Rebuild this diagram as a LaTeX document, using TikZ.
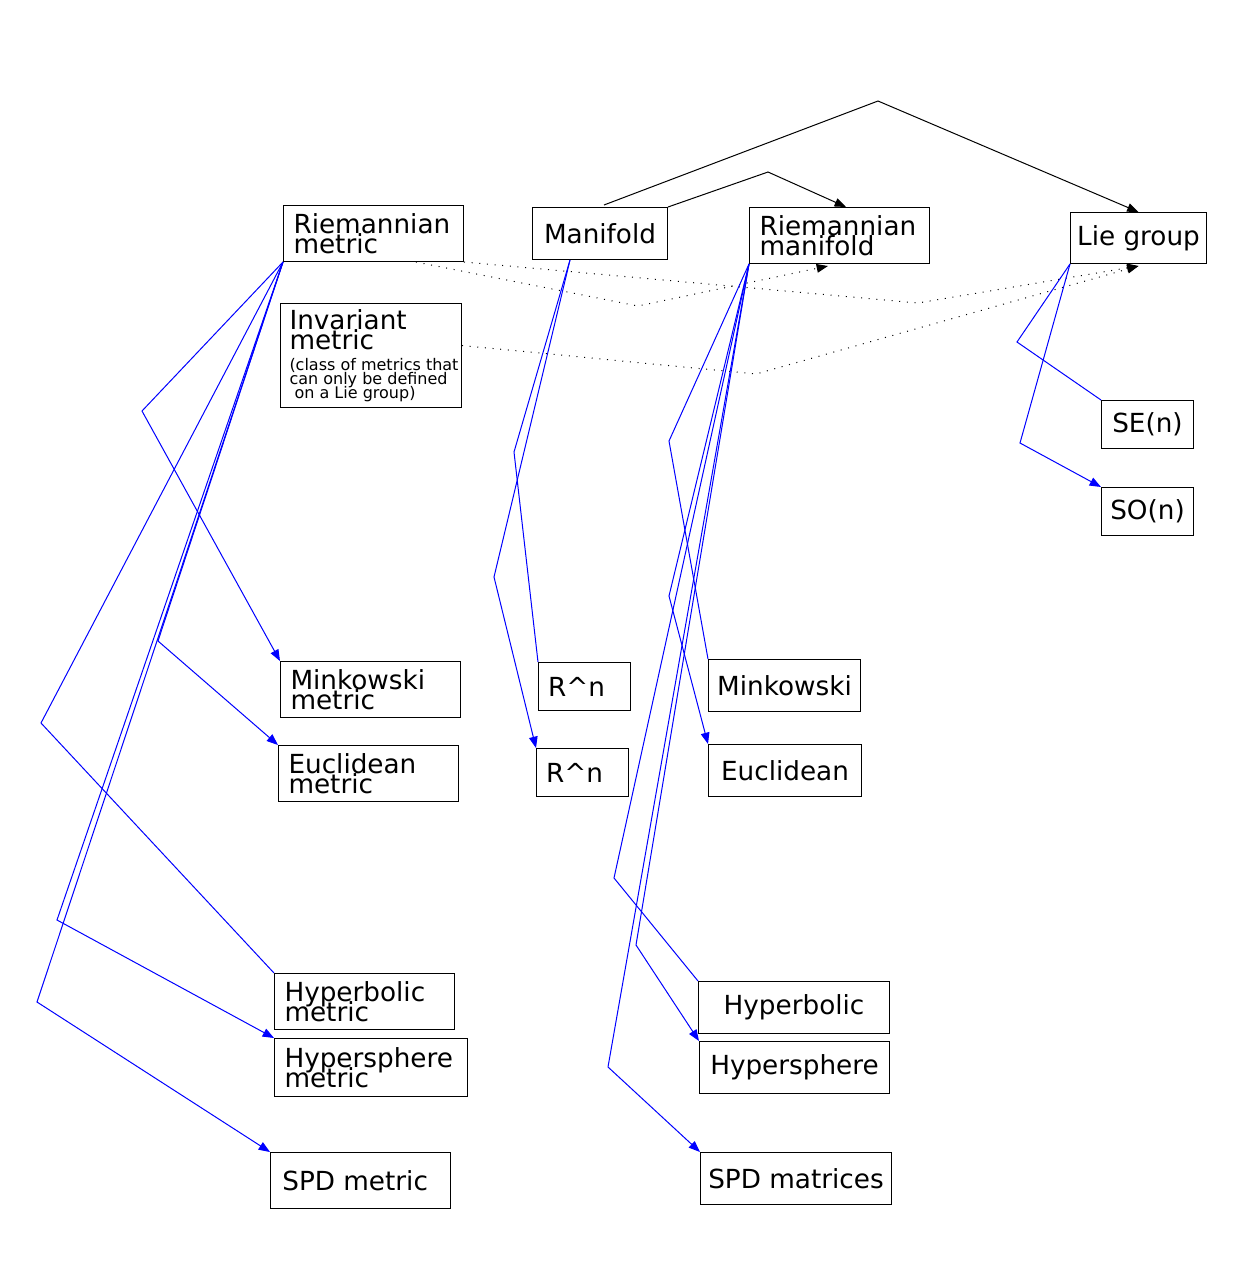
\documentclass[tikz,border=0pt]{standalone}
\usepackage{fontspec}
\setmainfont{DejaVu Sans}
\usetikzlibrary{arrows.meta,calc}
\newcommand\invnote{\fontsize{12}{10}\selectfont\hspace*{4.5pt}}
\begin{document}
\begin{tikzpicture}[x=0.75pt,y=-0.75pt,
  box/.style 2 args={draw=black, line width=0.75pt, rectangle, anchor=north west,
    inner sep=0pt, align=left, font=\fontsize{19.7}{15}\selectfont,
    execute at begin node={\lineskiplimit=-\maxdimen},
    minimum width={(#1)*0.75pt}, minimum height={(#2)*0.75pt}},
  % boxes with several left-justified lines
  wide/.style={inner xsep=7.5pt, text width=120pt},
  wider/.style={inner xsep=7.5pt, text width=129.75pt},
  tip/.style={-{Triangle[length=8.5pt,width=6.5pt]}},
  blk/.style={draw=black, line width=0.75pt},
  dot/.style={draw=black, line width=0.75pt, dash pattern=on 0.75pt off 5pt},
  bl/.style={draw=blue, line width=0.75pt},
]
\fill[white] (0,0) rectangle (1236,1286);
\useasboundingbox (0,0) rectangle (1236,1286);

% top row
\node[box={180}{56},wide] (rm)   at (283,205)  {Riemannian\\metric};
\node[box={135}{52}]      (man)  at (532,207)  {Manifold};
\node[box={180}{56},wide] (rman) at (749,207)  {Riemannian\\manifold};
\node[box={136}{51}]      (lie)  at (1070,212) {Lie group};
\node[box={181}{104}] (inv) at (280,303)
  {\hspace*{4.5pt}Invariant\\\hspace*{4.5pt}metric\\[1pt]
   {\invnote (class of metrics that}\\[-4.5pt]
   {\invnote can only be defined}\\[-4.5pt]
   {\invnote\ on a Lie group)}};

% Lie groups
\node[box={92}{48}] (se) at (1101,400) {SE(n)};
\node[box={92}{48}] (so) at (1101,487) {SO(n)};

% metrics
\node[box={180}{56},wide]  (mkm)  at (280,661)  {Minkowski\\metric};
\node[box={180}{56},wide]  (eum)  at (278,745)  {Euclidean\\metric};
\node[box={180}{56},wide]  (hbm)  at (274,973)  {Hyperbolic\\metric};
\node[box={193}{58},wider] (hsm)  at (274,1038) {Hypersphere\\metric};
\node[box={180}{56}]       (spdm) at (270,1152) {SPD metric\hspace*{8pt}};

% manifolds
\node[box={92}{48}] (rn1) at (538,662) {R\textasciicircum n\hspace*{12pt}};
\node[box={92}{48}] (rn2) at (536,748) {R\textasciicircum n\hspace*{12pt}};
\node[box={152}{52}] (mk)  at (708,659)  {Minkowski};
\node[box={153}{52}] (eu)  at (708,744)  {Euclidean};
\node[box={191}{52}] (hb)  at (698,981)  {Hyperbolic};
\node[box={190}{52}] (hs)  at (699,1041) {Hypersphere};
\node[box={191}{52}] (spd) at (700,1152) {SPD matrices};

% structure arrows
\draw[blk,tip] ($(man.north west)+(72,-2)$) -- (878,101) -- (lie.north);
\draw[blk,tip] (man.north east) -- (768,172) -- ($(rman.north west)+(97,0)$);

% dotted relations
\draw[dot,tip] ($(rm.south west)+(133,0)$) -- (638,306) -- ($(rman.south west)+(79,2)$);
\draw[dot,tip] (rm.south east) -- (918,303) -- ($(lie.south)+(0,2)$);
\draw[dot,tip] ($(inv.east)+(0,-10)$) -- (756,374) -- ($(lie.south)+(0,2)$);

% metric instances
\draw[bl,tip] (rm.south west) -- (142,411) -- (mkm.north west);
\draw[bl]     (rm.south west) -- (41,723)  -- (hbm.north west);
\draw[bl,tip] (rm.south west) -- (158,641) -- (eum.north west);
\draw[bl,tip] (rm.south west) -- (57,920)  -- (hsm.north west);
\draw[bl,tip] (rm.south west) -- (37,1002) -- (spdm.north west);

% manifold instances
\draw[bl]     ($(man.south west)+(38,0)$) -- (514,452) -- (rn1.north west);
\draw[bl,tip] ($(man.south west)+(38,0)$) -- (494,577) -- (rn2.north west);

% Riemannian manifold instances
\draw[bl]     (rman.south west) -- (669,441)  -- (mk.north west);
\draw[bl,tip] (rman.south west) -- (669,596)  -- (eu.north west);
\draw[bl]     (rman.south west) -- (614,878)  -- (hb.north west);
\draw[bl,tip] (rman.south west) -- (636,945)  -- (hs.north west);
\draw[bl,tip] (rman.south west) -- (608,1067) -- (spd.north west);

% Lie group instances
\draw[bl]     (lie.south west) -- (1017,342) -- (se.north west);
\draw[bl,tip] (lie.south west) -- (1020,443) -- (so.north west);
\end{tikzpicture}
\end{document}
